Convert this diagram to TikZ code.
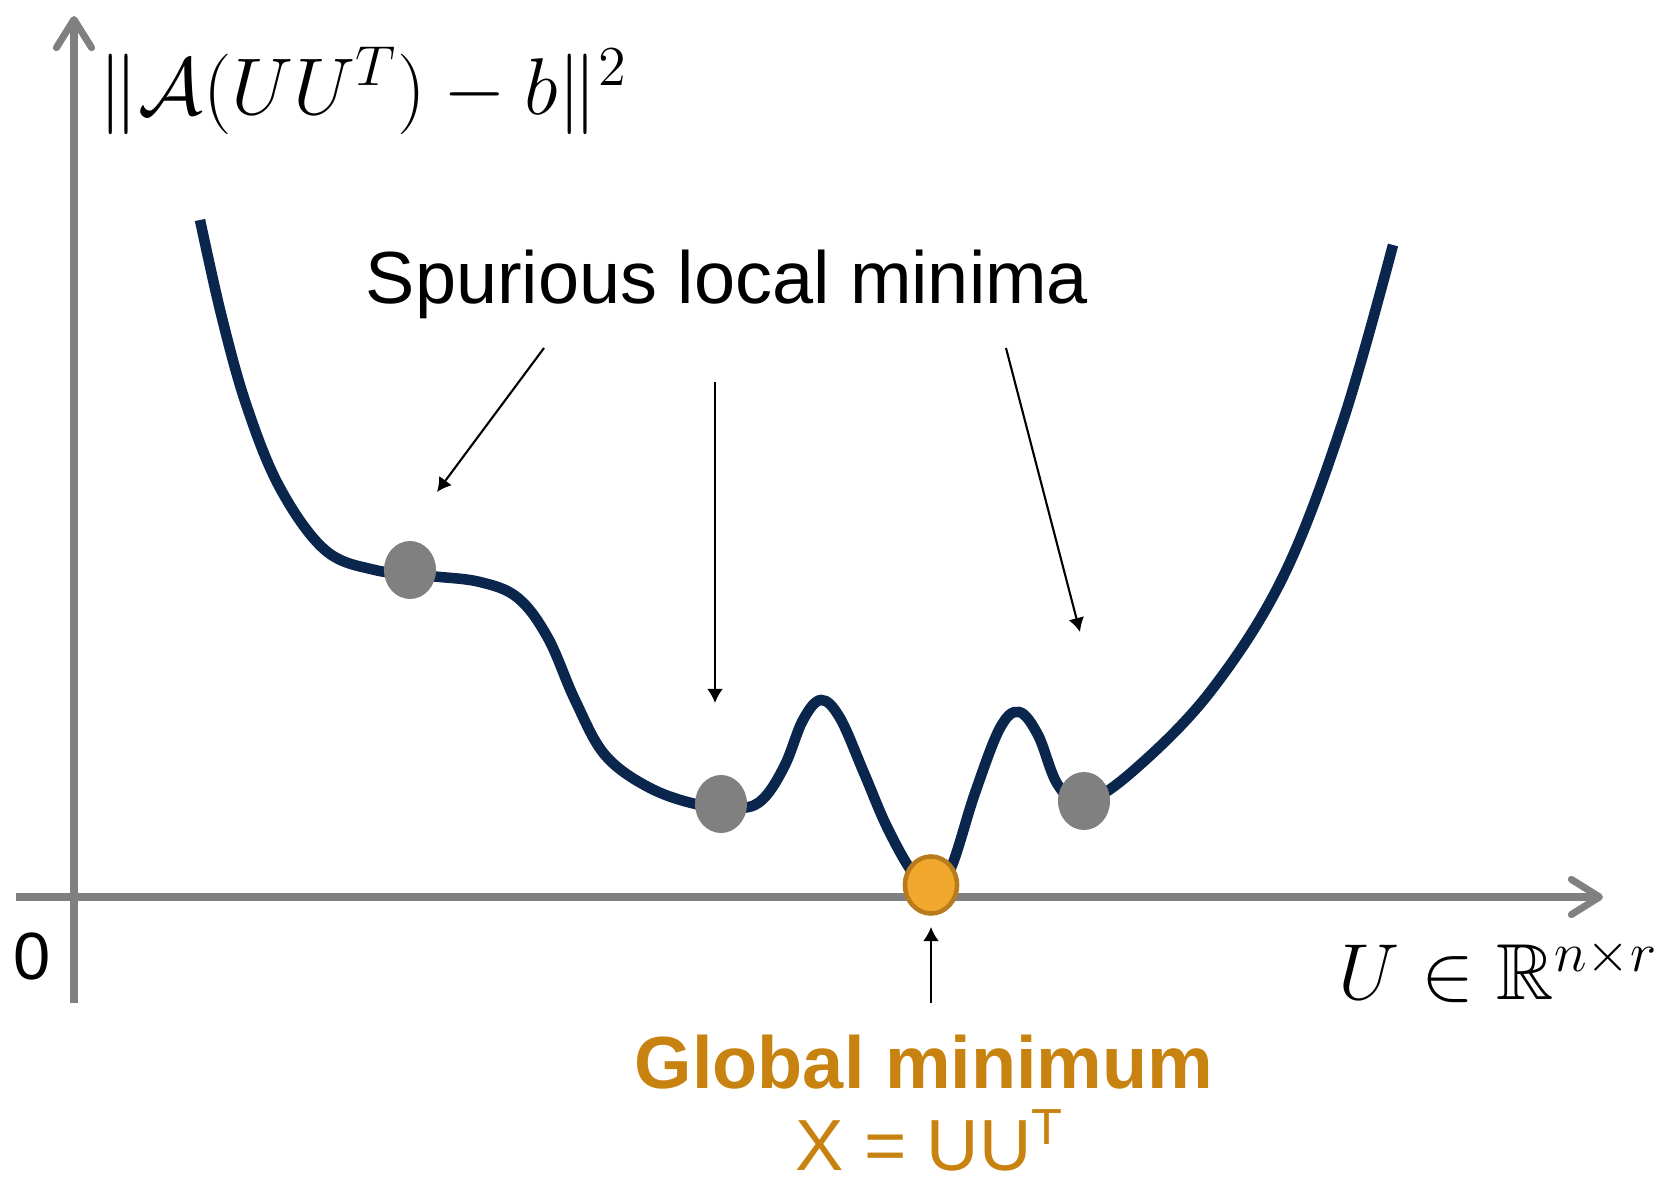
\RequirePackage{fix-cm}
\documentclass[tikz,border=0pt]{standalone}
\usepackage[no-math]{fontspec}
\setmainfont{Liberation Sans}
\usepackage{amsmath, amssymb}
\usepackage{xcolor}
\usetikzlibrary{arrows.meta, positioning, shapes.geometric}

\definecolor{curvenavy}{RGB}{10,38,77}
\definecolor{axisgray}{RGB}{128,128,128}
\definecolor{minfill}{RGB}{242,168,45}
\definecolor{minedge}{RGB}{184,124,30}
\definecolor{mintext}{RGB}{200,130,15}

\begin{document}
\begin{tikzpicture}[
    x=0.01cm, y=-0.01cm,
    >=Stealth,
    axis/.style={
        draw=axisgray, line width=2pt,
        -{Straight Barb[length=8pt, width=10pt, round]}
    },
    landscape/.style={
        draw=curvenavy, line width=3pt
    },
    localmin/.style={
        ellipse, fill=axisgray, minimum width=0.52cm, minimum height=0.58cm, inner sep=0pt
    },
    globalmin/.style={
        ellipse, fill=minfill, draw=minedge, line width=1.3pt,
        minimum width=0.52cm, minimum height=0.57cm, inner sep=0pt
    },
    pointer/.style={
        -{Latex[length=4pt, width=4.5pt]}, line width=0.6pt
    }
]

\useasboundingbox (0,0) rectangle (1665,1182);

% axes
\coordinate (ybot)   at (74,1003);
\coordinate (ytop)   at (74,16);
\coordinate (xleft)  at (16,897);
\coordinate (xright) at (1603,897);

\draw[axis] (xleft) -- (xright);
\draw[axis] (ybot) -- (ytop);

\node [anchor=base west, inner sep=0pt, font=\fontsize{22.9}{27}\selectfont] (ylabel) at (98,115) {$\|\mathcal{A}(UU^T)-b\|^2$};
\node [anchor=base west, inner sep=0pt, font=\fontsize{22.6}{27}\selectfont] (xlabel) at (1338,1000) {$U\in\mathbb{R}^{n\times r}$};
\node [font=\fontsize{19}{23}\selectfont] (zero) at (32,956) {0};

% loss landscape
\draw[landscape] plot[smooth, tension=0.6] coordinates {
    (200,220) (222,318) (247,407) (280,488) (325,550) (375,570)
    (430,576) (480,582) (518,598) (548,638) (575,700) (605,755)
    (650,788) (700,805) (742,808) (764,798) (785,765) (803,720)
    (821,700) (840,718) (864,773) (887,827) (913,873) (931,884)
    (950,870) (975,793) (1000,728) (1019,712) (1038,735) (1058,785)
    (1084,802) (1133,771) (1210,692) (1283,577) (1343,421) (1393,245)
};

\node [localmin] (lmin1) at (410,570) {};
\node [localmin] (lmin2) at (721,804) {};
\node [localmin] (lmin3) at (1084,801) {};
\node [globalmin] (gmin) at (931,885) {};

% labels
\node [anchor=base, font=\fontsize{21}{25}\selectfont] (spurious) at (727,304) {Spurious local minima};

\node [anchor=base, text=mintext, font=\bfseries\fontsize{21}{25}\selectfont] (gtext) at (924,1088) {Global minimum};
\node [anchor=base, inner sep=0pt, text=mintext, font=\fontsize{20.6}{24}\selectfont] (gform) at (930,1171) {X = UU\textsuperscript{T}};

% pointers
\coordinate (tail1) at (544,348);
\coordinate (tip1)  at (437,492);
\coordinate (tail2) at (715,382);
\coordinate (tip2)  at (715,703);
\coordinate (tail3) at (1006,348);
\coordinate (tip3)  at (1080,632);
\coordinate (tail4) at (931,1003);
\coordinate (tip4)  at (931,927);

\draw[pointer] (tail1) -- (tip1);
\draw[pointer] (tail2) -- (tip2);
\draw[pointer] (tail3) -- (tip3);
\draw[pointer] (tail4) -- (tip4);

\end{tikzpicture}
\end{document}
